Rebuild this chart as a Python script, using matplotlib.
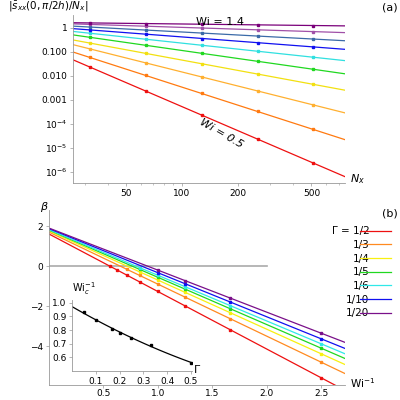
import numpy as np
import matplotlib
matplotlib.use("Agg")
import matplotlib.pyplot as plt

# panel (a): log10 |s_xx|/Nx at Nx = 32..512, Wi = 0.5 .. 1.4
nx = [32, 64, 128, 256, 512]
wi_a = [0.5, 0.6, 0.7, 0.8, 0.9, 1.0, 1.1, 1.2, 1.3, 1.4]
logs_a = [
    [-1.63, -2.63, -3.63, -4.63, -5.63],
    [-1.23, -1.98, -2.73, -3.48, -4.23],
    [-0.87, -1.46, -2.04, -2.62, -3.21],
    [-0.63, -1.06, -1.49, -1.92, -2.35],
    [-0.39, -0.72, -1.06, -1.39, -1.72],
    [-0.22, -0.47, -0.72, -0.97, -1.22],
    [-0.08, -0.26, -0.44, -0.61, -0.79],
    [0.04, -0.09, -0.21, -0.34, -0.46],
    [0.15, 0.07, 0.00, -0.08, -0.15],
    [0.21, 0.18, 0.16, 0.13, 0.10],
]
colors_a = ['#ee1010', '#ff7a10', '#ffb030', '#f2e010', '#20d820', '#30e0e0',
            '#1010f0', '#3a6aa8', '#a050a8', '#7a007a']

# panel (b): beta vs 1/Wi
gam_labels = ['Γ = 1/2', '1/3', '1/4', '1/5', '1/6', '1/10', '1/20']
xs_b = [
    [0.556, 0.625, 0.714, 0.833, 1.0, 1.25, 1.667, 2.5],
    [0.714, 0.833, 1.0, 1.25, 1.667, 2.5],
    [0.833, 1.0, 1.25, 1.667, 2.5],
    [0.833, 1.0, 1.25, 1.667, 2.5],
    [0.833, 1.0, 1.25, 1.667, 2.5],
    [1.0, 1.25, 1.667, 2.5],
    [1.0, 1.25, 1.667, 2.5],
]
betas_b = [
    [0.0, -0.19, -0.45, -0.79, -1.27, -1.99, -3.18, -5.58],
    [-0.16, -0.47, -0.9, -1.55, -2.63, -4.8],
    [-0.29, -0.7, -1.31, -2.33, -4.38],
    [-0.17, -0.56, -1.15, -2.13, -4.1],
    [-0.08, -0.46, -1.03, -1.98, -3.88],
    [-0.33, -0.88, -1.80, -3.63],
    [-0.2, -0.73, -1.6, -3.35],
]
colors_b = ['#ee1010', '#ff8a20', '#f8f010', '#20d820', '#30e8e8', '#1010f0', '#7a108a']

# inset: critical 1/Wi vs Gamma
gam = [0.05, 0.1, 0.167, 0.2, 0.25, 0.333, 0.5]
wic = [0.93, 0.87, 0.81, 0.78, 0.745, 0.69, 0.56]

fig = plt.figure(figsize=(4, 4), dpi=100)
fs = 6.5
gray = '#999999'


def style(ax):
    for s in ['top', 'right']:
        ax.spines[s].set_visible(False)
    for s in ['left', 'bottom']:
        ax.spines[s].set_color(gray)
        ax.spines[s].set_linewidth(0.6)
    ax.tick_params(labelsize=fs, color=gray, width=0.5, length=2.5, pad=1.5)
    ax.tick_params(which='minor', color=gray, width=0.4, length=1.5)


# ---- (a)
ax1 = fig.add_axes([0.183, 0.5425, 0.68, 0.42])
xx = np.array([26, 760])
for ys, c in zip(logs_a, colors_a):
    p = np.polyfit(np.log10(nx), ys, 1)
    ax1.plot(xx, 10 ** np.polyval(p, np.log10(xx)), color=c, lw=0.9)
    ax1.plot(nx, 10 ** np.array(ys), 's', color=c, ms=1.8)
ax1.set_xscale('log')
ax1.set_yscale('log')
ax1.set_xlim(26, 760)
ax1.set_ylim(10 ** -6.46, 10 ** 0.54)
ax1.set_xticks([50, 100, 200, 500])
ax1.set_xticklabels(['50', '100', '200', '500'])
ax1.set_yticks([1, 0.1, 0.01, 0.001, 1e-4, 1e-5, 1e-6])
ax1.set_yticklabels(['1', '0.100', '0.010', '0.001', r'$10^{-4}$', r'$10^{-5}$', r'$10^{-6}$'])
ax1.yaxis.set_minor_locator(matplotlib.ticker.NullLocator())
style(ax1)
ax1.text(0.45, 0.94, 'Wi = 1.4', transform=ax1.transAxes, fontsize=8)
ax1.text(0.46, 0.21, 'Wi = 0.5', transform=ax1.transAxes, fontsize=8,
         rotation=-30, style='italic')
fig.text(0.02, 0.975, r'$|\bar{s}_{xx}(0,\pi/2h)/N_x|$', fontsize=7.5)
fig.text(0.875, 0.545, r'$N_x$', fontsize=8, style='italic')
fig.text(0.955, 0.975, '(a)', fontsize=8)

# ---- (b)
ax2 = fig.add_axes([0.1225, 0.037, 0.74, 0.438])
xl = np.array([0, 2.72])
for xs, bs, c, lab in zip(xs_b, betas_b, colors_b, gam_labels):
    p = np.polyfit(xs, bs, 1)
    ax2.plot(xl, np.polyval(p, xl), color=c, lw=0.9, label=lab)
    ax2.plot(xs, bs, 's', color=c, ms=1.8)
ax2.plot([0, 2.0], [0, 0], color='#aaaaaa', lw=1.2, zorder=0)
ax2.set_xlim(0, 2.72)
ax2.set_ylim(-5.95, 2.8)
ax2.set_xticks([0.5, 1.0, 1.5, 2.0, 2.5])
ax2.set_yticks([2, 0, -2, -4])
ax2.set_yticklabels(['2', '0', '−2', '−4'])
style(ax2)
ax2.tick_params(axis='x', pad=0.5)
leg = ax2.legend(loc='upper left', bbox_to_anchor=(0.88, 0.93), fontsize=7.5,
                 frameon=False, handlelength=3, markerfirst=False,
                 labelspacing=0.35, borderaxespad=0)
for t in leg.get_texts():
    t.set_ha('right')
    t.set_position((18, 0))
fig.text(0.1, 0.475, r'$\beta$', fontsize=8)
fig.text(0.955, 0.46, '(b)', fontsize=8)
fig.text(0.875, 0.03, r'Wi$^{-1}$', fontsize=7.5)

# ---- inset
ax3 = fig.add_axes([0.18, 0.0725, 0.3, 0.1775])
p = np.polyfit(gam, wic, 2)
gg = np.linspace(0, 0.5, 100)
ax3.plot(gg, np.polyval(p, gg), color='black', lw=0.9)
ax3.plot(gam, wic, 's', color='black', ms=1.8)
ax3.set_xlim(0, 0.505)
ax3.set_ylim(0.5, 1.02)
ax3.set_xticks([0.1, 0.2, 0.3, 0.4, 0.5])
ax3.set_yticks([0.6, 0.7, 0.8, 0.9, 1.0])
ax3.patch.set_alpha(0)
style(ax3)
fig.text(0.18, 0.27, r'Wi$_c^{-1}$', fontsize=7)
fig.text(0.485, 0.067, 'Γ', fontsize=8)

fig.savefig('out.png', dpi=100)
